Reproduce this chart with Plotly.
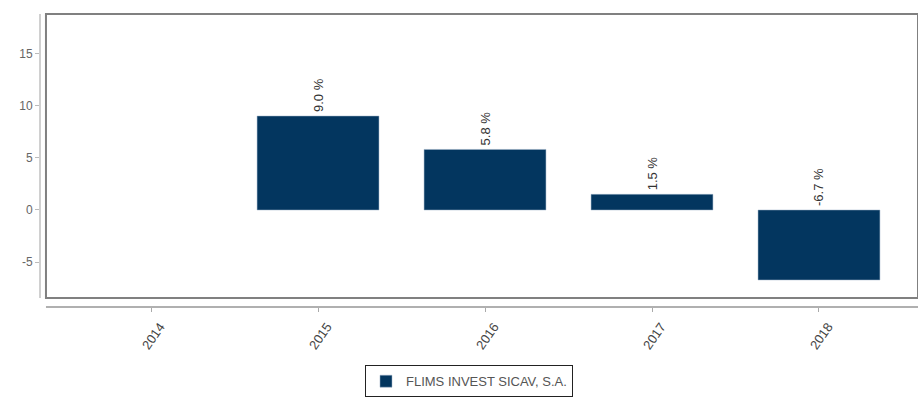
import plotly.graph_objects as go

# --- Datos ---
anios = ["2014", "2015", "2016", "2017", "2018"]
rentabilidad = [None, 9.0, 5.8, 1.5, -6.7]
etiquetas = ["", "9.0 %", "5.8 %", "1.5 %", "-6.7 %"]
serie = "FLIMS INVEST SICAV, S.A."

color_barra = "#03365F"
fuente = "Liberation Sans, Arial, sans-serif"

fig = go.Figure()
fig.add_trace(go.Bar(x=anios, y=rentabilidad, name=serie, width=0.73,
                     marker=dict(color=color_barra, line=dict(color="#9fb3c8", width=0.5)),
                     showlegend=True))

# --- Etiquetas verticales sobre las barras ---
for i, (v, t) in enumerate(zip(rentabilidad, etiquetas)):
    if v is None:
        continue
    fig.add_annotation(x=i, y=max(v, 0), xref="x", yref="y", text=t, textangle=-90,
                       showarrow=False, yanchor="bottom", xanchor="center", yshift=2,
                       font=dict(size=13, color="#333333", family=fuente))

# --- Marco y ejes dibujados a mano ---
fig.add_shape(type="rect", xref="paper", yref="paper", x0=0.0068, x1=1.0, y0=0.031, y1=1.0,
              line=dict(color="#808080", width=2), layer="above")
fig.add_shape(type="line", xref="paper", yref="paper", x0=0, x1=0, y0=0.031, y1=1.0,
              line=dict(color="#c0c0c0", width=1.5))
fig.add_shape(type="line", xref="paper", yref="paper", x0=0.0068, x1=1.0, y0=0, y1=0,
              line=dict(color="#b0b0b0", width=2))

fig.update_layout(
    width=918, height=398,
    margin=dict(l=40, r=0, t=14, b=91),
    paper_bgcolor="white", plot_bgcolor="white",
    font=dict(family=fuente, color="#555555"),
    xaxis=dict(type="category", range=[-0.665, 4.593], showgrid=False, showline=False, zeroline=False,
               ticks="outside", ticklen=4, tickcolor="#aaaaaa", tickangle=-55,
               ticklabelshift=9, ticklabelstandoff=2,
               tickfont=dict(size=13, color="#444444")),
    yaxis=dict(range=[-9.29, 18.77], showgrid=False, showline=False, zeroline=False,
               tickvals=[-5, 0, 5, 10, 15], ticktext=["-5", "0", "5", "10", "15"],
               ticks="outside", ticklen=4, tickcolor="#bbbbbb",
               tickfont=dict(size=12, color="#666666")),
    legend=dict(orientation="h", x=0.4886, xanchor="center", y=-0.308, yanchor="bottom",
                bordercolor="#222222", borderwidth=1, font=dict(size=13, color="#555555")),
    bargap=0.27,
)

fig.write_html("out.html", config={"displayModeBar": False},
               post_script="document.body.style.margin='0';")
